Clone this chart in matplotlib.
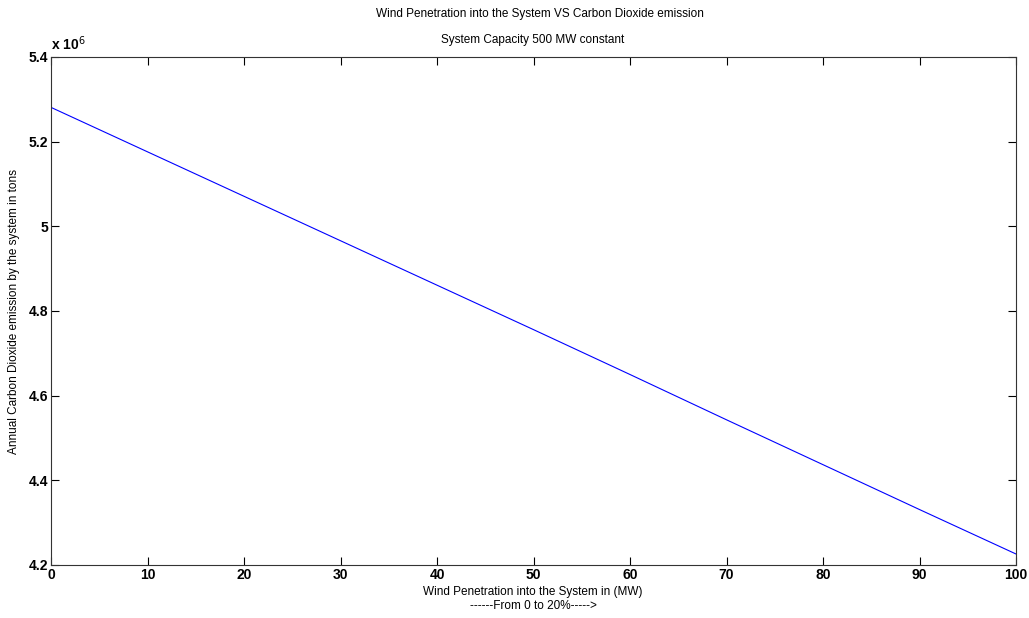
import matplotlib
matplotlib.use('Agg')
from matplotlib import pyplot as plt

# wind penetration (MW) and annual CO2 emission (tons)
wind = [0, 10, 20, 30, 40, 50, 60, 70, 80, 90, 100]
co2 = [5.281e6, 5.176e6, 5.071e6, 4.966e6, 4.861e6, 4.756e6,
       4.650e6, 4.543e6, 4.437e6, 4.331e6, 4.226e6]
xticks = [0, 10, 20, 30, 40, 50, 60, 70, 80, 90, 100]
yticks = [4.2e6, 4.4e6, 4.6e6, 4.8e6, 5.0e6, 5.2e6, 5.4e6]
ytick_labels = ['4.2', '4.4', '4.6', '4.8', '5', '5.2', '5.4']

plt.rcParams['font.family'] = ['Liberation Sans', 'DejaVu Sans']

fig = plt.figure(figsize=(10.29, 6.18), dpi=100)
ax = fig.add_axes([51/1029, 1 - 565/618, (1016-51)/1029, (565-57)/618])

ax.plot(wind, co2, color='#0000ff', linewidth=0.8)
ax.set_xlim(0, 100)
ax.set_ylim(4.2e6, 5.4e6)
ax.set_xticks(xticks)
ax.set_xticklabels([str(t) for t in xticks], fontweight='bold', fontsize=10)
ax.set_yticks(yticks)
ax.set_yticklabels(ytick_labels, fontweight='bold', fontsize=10)
ax.tick_params(direction='in', top=True, right=True, length=6, width=0.8, pad=2)
for s in ax.spines.values():
    s.set_linewidth(0.8)
    s.set_color('#333333')

ax.text(0.0, 1.008, r'x 10$^{6}$', transform=ax.transAxes, fontsize=10,
        fontweight='bold', ha='left', va='bottom')

fig.text(540/1029, 1 - 14/618, 'Wind Penetration into the System VS Carbon Dioxide emission',
         ha='center', va='center', fontsize=8.5)
fig.text(533/1029, 1 - 40/618, 'System Capacity 500 MW constant',
         ha='center', va='center', fontsize=8.5)
fig.text(533/1029, 1 - 592/618, 'Wind Penetration into the System in (MW)',
         ha='center', va='center', fontsize=8.5)
fig.text(533/1029, 1 - 606/618, '------From 0 to 20%----->',
         ha='center', va='center', fontsize=8.5)
fig.text(14/1029, 1 - 311/618, 'Annual Carbon Dioxide emission by the system in tons',
         ha='center', va='center', rotation=90, fontsize=8.5)

fig.savefig('out.png', dpi=100)
